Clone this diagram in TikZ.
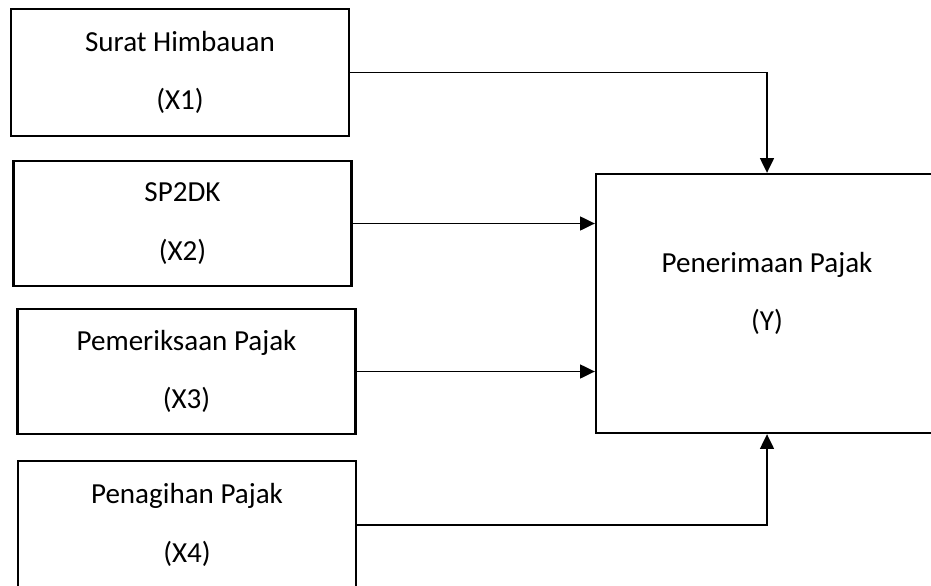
\documentclass[tikz,border=0pt]{standalone}
\usepackage{fontspec}
\setmainfont{Carlito}
\usetikzlibrary{arrows.meta}

\begin{document}
\begin{tikzpicture}[x=0.75pt, y=-0.75pt, >={Triangle[length=11pt, width=10.5pt]},
    varbox/.style={draw, line width=1.8pt, minimum width=253.5pt, minimum height=93.75pt,
        align=center, inner sep=0pt, font=\fontsize{21.8}{44}\selectfont},
    link/.style={->, line width=0.9pt}]
    \useasboundingbox (0,0) rectangle (931,585);
    \clip (0,0) rectangle (931,585);

    % variabel bebas
    \node[varbox, minimum height=95.25pt] (x1) at (180,72.5) {Surat Himbauan\\(X1)};
    \node[varbox] (x2) at (182.5,223.5) {SP2DK\\(X2)};
    \node[varbox] (x3) at (186.5,371.5) {Pemeriksaan Pajak\\(X3)};
    \node[varbox, minimum height=96pt] (x4) at (187,525) {Penagihan Pajak\\(X4)};

    % variabel terikat
    \node[varbox, minimum width=256.5pt, minimum height=194.25pt, text depth=18pt] (y)
        at (767,303.5) {Penerimaan Pajak\\(Y)};

    % panah
    \draw[link] (x1.east) -| (y.north);
    \draw[link] (x2.east) -- (x2.east -| y.west);
    \draw[link] (x3.east) -- (x3.east -| y.west);
    \draw[link] (x4.east) -| (y.south);
\end{tikzpicture}
\end{document}
